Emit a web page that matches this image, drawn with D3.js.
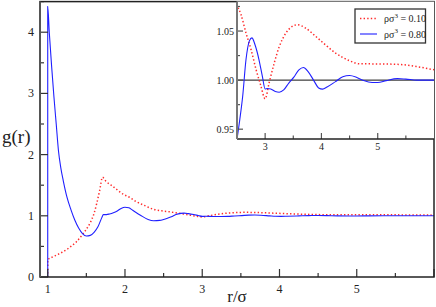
<!DOCTYPE html>
<html><head><meta charset="utf-8">
<script src="https://cdn.jsdelivr.net/npm/d3@7"></script>
<style>body{margin:0;background:#fff}svg{display:block}text{font-family:"Liberation Serif","DejaVu Serif",serif;fill:#222}</style>
</head><body><svg id="c" width="436" height="307"></svg>
<script>
// data: r/sigma and g(r)
const lowR =  [1.0,1.0,1.05,1.116,1.18,1.246,1.31,1.375,1.46,1.5,1.547,1.6,1.634,1.67,1.71,1.75,1.85,1.98,2.06,2.15,2.25,2.37,2.5,2.57,2.66,2.75,2.84,2.92,3.0,3.07,3.16,3.25,3.37,3.48,3.57,3.72,3.9,4.07,4.25,4.38,4.5,4.68,5.03,5.38,5.68,6.0];
const lowG =  [0,0.28,0.32,0.36,0.40,0.45,0.51,0.58,0.71,0.78,0.88,1.04,1.2,1.40,1.63,1.57,1.475,1.35,1.30,1.23,1.17,1.106,1.077,1.067,1.048,1.031,1.0105,0.995,0.981,0.997,1.017,1.034,1.048,1.0547,1.0564,1.053,1.0445,1.036,1.0276,1.023,1.0197,1.0166,1.0165,1.016,1.0139,1.0105];
const highR = [1.0,1.0,1.02,1.05,1.08,1.11,1.14,1.17,1.2,1.25,1.3,1.35,1.4,1.45,1.5,1.55,1.6,1.65,1.7,1.72,1.76,1.8,1.85,1.9,1.95,2.0,2.05,2.1,2.2,2.3,2.37,2.45,2.5,2.55,2.6,2.66,2.72,2.765,2.82,2.89,2.95,3.0,3.04,3.1,3.18,3.25,3.33,3.42,3.51,3.6,3.68,3.76,3.87,3.95,4.02,4.1,4.25,4.38,4.5,4.62,4.75,4.9,5.0,5.15,5.35,5.5,5.7,6.0];
const highG = [0,4.42,4.0,3.45,2.95,2.5,2.05,1.78,1.58,1.3,1.1,0.93,0.8,0.71,0.67,0.68,0.73,0.82,0.97,1.02,1.02,1.03,1.05,1.08,1.12,1.14,1.13,1.09,1.01,0.94,0.92,0.925,0.94,0.96,0.983,1.021,1.04,1.043,1.036,1.021,1.004,0.991,0.9915,0.991,0.9885,0.9877,0.990,0.997,1.003,1.0105,1.0129,1.009,0.999,0.992,0.9908,0.993,0.9985,1.0035,1.0047,1.003,0.9995,0.9975,0.9975,0.9995,1.0015,1.001,1.0,1.0];
const mainXTicks = [1,2,3,4,5];
const mainYTicks = [0,1,2,3,4];
const insetXTicks = [3,4,5];
const insetYTicks = [0.95,1.00,1.05];
const legendLabels = ["0.10","0.80"];

const svg = d3.select("#c");
const lowData = lowR.map((r,i)=>[r,lowG[i]]);
const highData = highR.map((r,i)=>[r,highG[i]]);
const RED="#ff2a2a", BLUE="#2020ff";

// main
const x = d3.scaleLinear().domain([0.9,6]).range([40,434]);
const y = d3.scaleLinear().domain([0,4.5]).range([277,1.6]);
svg.append("clipPath").attr("id","cm").append("rect").attr("x",40).attr("y",1.6).attr("width",394).attr("height",275.4);
const line = (sx,sy)=>d3.line().x(d=>sx(d[0])).y(d=>sy(d[1])).curve(d3.curveMonotoneX);
const gm = svg.append("g").attr("clip-path","url(#cm)");
gm.append("path").attr("d",line(x,y)(lowData)).attr("fill","none").attr("stroke",RED).attr("stroke-width",1.5).attr("stroke-dasharray","1.4,2.2");
gm.append("path").attr("d",line(x,y)(highData)).attr("fill","none").attr("stroke",BLUE).attr("stroke-width",1.1);

// main axes (ticks inward)
const xa = svg.append("g").attr("transform","translate(0,277)");
xa.call(d3.axisBottom(x).tickValues(d3.range(1,6.01,0.5)).tickSize(0).tickFormat(""));
xa.select(".domain").remove();
x.ticks; 
d3.range(1,6.01,0.5).forEach(v=>{
  const major = Number.isInteger(v);
  xa.append("line").attr("x1",x(v)).attr("x2",x(v)).attr("y1",0).attr("y2",major?-8:-4).attr("stroke","#333").attr("stroke-width",1.2);
});
mainXTicks.forEach(v=>xa.append("text").attr("x",x(v)).attr("y",16).attr("text-anchor","middle").attr("font-size",12).text(v));
const ya = svg.append("g").attr("transform","translate(40,0)");
d3.range(0,4.51,0.5).forEach(v=>{
  const major = Number.isInteger(v);
  ya.append("line").attr("x1",0).attr("x2",major?8:4).attr("y1",y(v)).attr("y2",y(v)).attr("stroke","#333").attr("stroke-width",1.2);
});
mainYTicks.forEach(v=>ya.append("text").attr("x",-6).attr("y",y(v)+4).attr("text-anchor","end").attr("font-size",12).text(v));
svg.append("rect").attr("x",40).attr("y",1.6).attr("width",394).attr("height",275.4).attr("fill","none").attr("stroke","#222").attr("stroke-width",1.5);
svg.append("line").attr("x1",40).attr("x2",40).attr("y1",1.6).attr("y2",277).attr("stroke","#555").attr("stroke-width",2);
svg.append("text").attr("x",2).attr("y",143).attr("font-size",19).text("g(r)");
svg.append("text").attr("x",237).attr("y",302).attr("text-anchor","middle").attr("font-size",17).text("r/σ");

// inset
const xi = d3.scaleLinear().domain([2.5,6]).range([237,434]);
const yi = d3.scaleLinear().domain([0.94,1.08]).range([139,1.6]);
svg.append("rect").attr("x",237).attr("y",1.6).attr("width",197).attr("height",137.4).attr("fill","#fff");
svg.append("clipPath").attr("id","ci").append("rect").attr("x",237).attr("y",1.6).attr("width",197).attr("height",137.4);
const gi = svg.append("g").attr("clip-path","url(#ci)");
gi.append("line").attr("x1",237).attr("x2",434).attr("y1",yi(1)).attr("y2",yi(1)).attr("stroke","#111").attr("stroke-width",1);
gi.append("path").attr("d",line(xi,yi)(lowData)).attr("fill","none").attr("stroke",RED).attr("stroke-width",1.5).attr("stroke-dasharray","1.4,2.2");
gi.append("path").attr("d",line(xi,yi)(highData)).attr("fill","none").attr("stroke",BLUE).attr("stroke-width",1.1);
d3.range(3,5.51,0.5).forEach(v=>{
  const major = Number.isInteger(v);
  svg.append("line").attr("x1",xi(v)).attr("x2",xi(v)).attr("y1",139).attr("y2",major?133:135.5).attr("stroke","#555").attr("stroke-width",1.2);
});
insetXTicks.forEach(v=>svg.append("text").attr("x",xi(v)).attr("y",150).attr("text-anchor","middle").attr("font-size",10).text(v));
[0.95,0.975,1.0,1.025,1.05,1.075].forEach((v,i)=>{
  const major = i%2===0;
  svg.append("line").attr("x1",237).attr("x2",major?243:240).attr("y1",yi(v)).attr("y2",yi(v)).attr("stroke","#555").attr("stroke-width",1.2);
});
insetYTicks.forEach(v=>svg.append("text").attr("x",234).attr("y",yi(v)+3.5).attr("text-anchor","end").attr("font-size",10).text(d3.format(".2f")(v)));
svg.append("line").attr("x1",237).attr("x2",434).attr("y1",139).attr("y2",139).attr("stroke","#222").attr("stroke-width",1.5);
svg.append("line").attr("x1",237).attr("x2",237).attr("y1",1.6).attr("y2",139).attr("stroke","#777").attr("stroke-width",2);

// legend
const lg = svg.append("g");
lg.append("rect").attr("x",355).attr("y",9).attr("width",70.5).attr("height",34).attr("fill","#fff").attr("stroke","#333").attr("stroke-width",1.3);
[[RED,"1.4,2.2",1.5],[BLUE,null,1.1]].forEach((s,i)=>{
  const yy = 18.5 + i*15.5;
  lg.append("line").attr("x1",360).attr("x2",377).attr("y1",yy).attr("y2",yy).attr("stroke",s[0]).attr("stroke-width",s[2]).attr("stroke-dasharray",s[1]);
  const t = lg.append("text").attr("x",384).attr("y",yy+3.5).attr("font-size",10);
  t.append("tspan").text("ρσ");
  t.append("tspan").attr("font-size",7).attr("dy",-4.5).text("3");
  t.append("tspan").attr("dy",4.5).text(" = "+legendLabels[i]);
});
</script></body></html>
